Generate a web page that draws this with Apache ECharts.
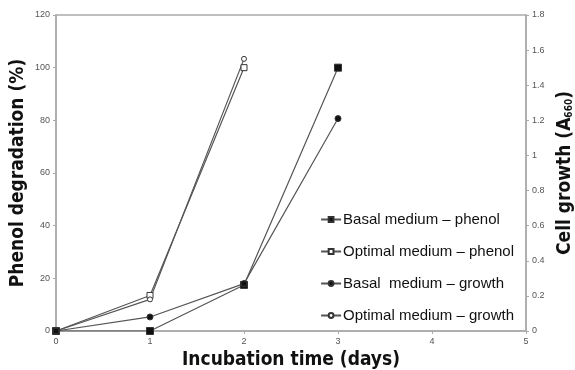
<!DOCTYPE html>
<html>
<head>
<meta charset="utf-8">
<script src="https://cdn.jsdelivr.net/npm/echarts@6/dist/echarts.min.js"></script>
<style>
  html, body { margin: 0; padding: 0; background: #fff; }
  #chart { width: 575px; height: 370px; }
</style>
</head>
<body>
<div id="chart"></div>
<script>
// incubation days
const days = [0, 1, 2, 3]
// phenol degradation (%) - left axis
const basalPhenol = [0, 0, 17.5, 100]
const optimalPhenol = [0, 13.5, 100]
// cell growth (A660) - right axis
const basalGrowth = [0, 0.08, 0.27, 1.21]
const optimalGrowth = [0, 0.18, 1.55]

const names = [
  'Basal medium \u2013 phenol',
  'Optimal medium \u2013 phenol',
  'Basal  medium \u2013 growth',
  'Optimal medium \u2013 growth'
]

const pair = vals => vals.map((v, i) => [days[i], v])
const titleFont = "'DejaVu Sans Condensed', 'Liberation Sans', sans-serif"
const tickStyle = { color: '#555', fontSize: 9, fontFamily: 'Liberation Sans' }

const chart = echarts.init(document.getElementById('chart'))

function lineSeries (name, data, axis, symbol, filled, size) {
  return {
    name: name,
    type: 'line',
    yAxisIndex: axis,
    data: pair(data),
    symbol: symbol,
    symbolSize: size,
    showSymbol: true,
    lineStyle: { color: '#555', width: 1.2 },
    itemStyle: {
      color: filled ? '#111' : '#fff',
      borderColor: '#333',
      borderWidth: 1
    },
    z: filled ? 3 : 2
  }
}

chart.setOption({
  animation: false,
  grid: {
    left: 56,
    right: 49,
    top: 15,
    bottom: 39,
    outerBoundsMode: 'none',
    show: true,
    borderColor: '#aaa',
    borderWidth: 1.5
  },
  legend: {
    orient: 'vertical',
    right: 56,
    top: 207,
    itemGap: 17,
    itemWidth: 20,
    itemHeight: 6,
    textStyle: { color: '#111', fontSize: 15, fontFamily: 'Liberation Sans', padding: [0, 0, 0, -3] },
    data: names
  },
  xAxis: {
    type: 'value',
    min: 0,
    max: 5,
    interval: 1,
    name: 'Incubation time (days)',
    nameLocation: 'middle',
    nameGap: 19,
    nameTextStyle: { color: '#111', fontSize: 19, fontWeight: 'bold', fontFamily: titleFont },
    axisLine: { lineStyle: { color: '#aaa', width: 1.5 } },
    axisTick: { show: true, length: 3, lineStyle: { color: '#aaa' } },
    axisLabel: Object.assign({ margin: 6 }, tickStyle),
    splitLine: { show: false }
  },
  yAxis: [
    {
      type: 'value',
      min: 0,
      max: 120,
      interval: 20,
      name: 'Phenol degradation (%)',
      nameLocation: 'middle',
      nameRotate: 90,
      nameGap: 28,
      nameMoveOverlap: false,
      nameTextStyle: { color: '#111', fontSize: 19, fontWeight: 'bold', fontFamily: titleFont },
      axisLine: { show: true, lineStyle: { color: '#aaa', width: 1.5 } },
      axisTick: { show: true, length: 3, lineStyle: { color: '#aaa' } },
      axisLabel: Object.assign({ margin: 6 }, tickStyle),
      splitLine: { show: false }
    },
    {
      type: 'value',
      position: 'right',
      min: 0,
      max: 1.8,
      interval: 0.2,
      name: '{t|Cell growth (A}{s|660}{t|)}',
      nameLocation: 'middle',
      nameRotate: 90,
      nameGap: 30,
      nameTextStyle: {
        rich: {
          t: { color: '#111', fontSize: 19, fontWeight: 'bold', fontFamily: titleFont },
          s: { color: '#111', fontSize: 10, fontWeight: 'bold', fontFamily: titleFont, padding: [8, 0, 0, 0] }
        }
      },
      axisLine: { show: true, lineStyle: { color: '#aaa', width: 1.5 } },
      axisTick: { show: true, length: 3, lineStyle: { color: '#aaa' } },
      axisLabel: Object.assign({ margin: 6 }, tickStyle),
      splitLine: { show: false }
    }
  ],
  series: [
    lineSeries(names[0], basalPhenol, 0, 'rect', true, 7),
    lineSeries(names[1], optimalPhenol, 0, 'rect', false, 6),
    lineSeries(names[2], basalGrowth, 1, 'circle', true, 6),
    lineSeries(names[3], optimalGrowth, 1, 'circle', false, 5)
  ]
})
</script>
</body>
</html>
